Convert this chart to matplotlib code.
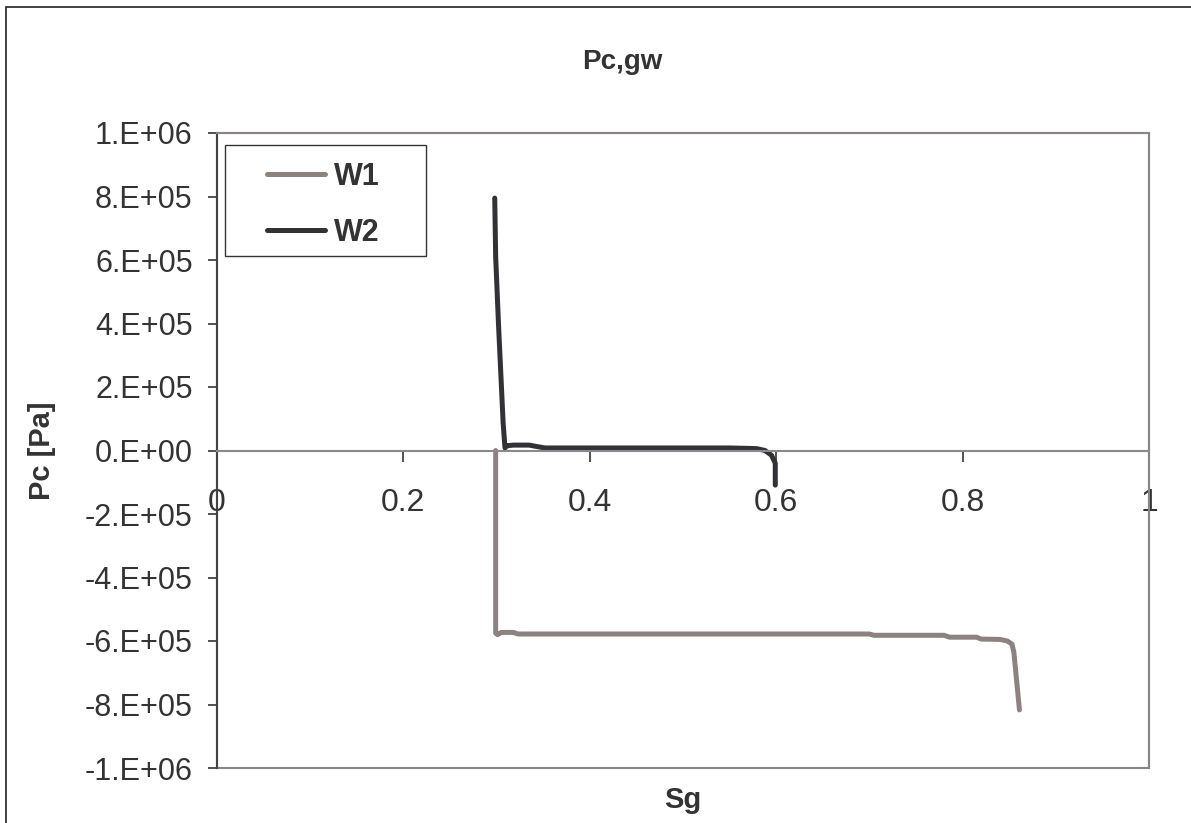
import matplotlib
matplotlib.use('Agg')
import matplotlib.pyplot as plt
from matplotlib.patches import Rectangle
from matplotlib.ticker import FuncFormatter, MultipleLocator
import numpy as np

plt.rcParams['font.family'] = ['Liberation Sans', 'DejaVu Sans']

# W1 curve (Sg, Pc)
sg_w1 = [0.299, 0.299, 0.301, 0.305, 0.318, 0.323, 0.50, 0.70, 0.705, 0.78, 0.786,
         0.815, 0.82, 0.84, 0.848, 0.853, 0.855, 0.861]
pc_w1 = [0, -5.75e5, -5.8e5, -5.73e5, -5.73e5, -5.78e5, -5.78e5, -5.78e5, -5.82e5,
         -5.82e5, -5.88e5, -5.88e5, -5.94e5, -5.95e5, -6.0e5, -6.1e5, -6.35e5, -8.17e5]

# W2 curve (Sg, Pc)
sg_w2 = [0.298, 0.299, 0.302, 0.307, 0.309, 0.311, 0.318, 0.335, 0.344, 0.352,
         0.45, 0.55, 0.579, 0.588, 0.595, 0.599, 0.599]
pc_w2 = [7.95e5, 6.1e5, 4.0e5, 0.87e5, 0.08e5, 1.5e4, 1.7e4, 1.7e4, 1.2e4, 0.8e4,
         0.8e4, 0.8e4, 0.6e4, 0.0, -1.5e4, -4e4, -1.09e5]

c_w1 = '#8c827f'
c_w2 = '#323236'
txt = '#333333'
frame = '#8a8585'


def sci_fmt(v, pos):
    if v == 0:
        return '0.E+00'
    e = int(np.floor(np.log10(abs(v)) + 1e-9))
    m = int(round(v / 10 ** e))
    return '%d.E%+03d' % (m, e)


fig = plt.figure(figsize=(11.91, 8.23), dpi=100)
# outer chart border
fig.patches.append(Rectangle((6 / 1191, -0.1), 1.5, 1 - 7 / 823 + 0.1,
                             transform=fig.transFigure, fill=False,
                             edgecolor='#222222', linewidth=1.2))

ax = fig.add_axes([217 / 1191, 1 - 768 / 823, 932 / 1191, 635 / 823])

ax.plot(sg_w1, pc_w1, color=c_w1, lw=3.6, solid_joinstyle='round',
        solid_capstyle='round', label='W1')
ax.plot(sg_w2, pc_w2, color=c_w2, lw=3.6, solid_joinstyle='round',
        solid_capstyle='round', label='W2')

ax.set_xlim(0, 1)
ax.set_ylim(-1e6, 1e6)
ax.xaxis.set_major_locator(MultipleLocator(0.2))
ax.yaxis.set_major_locator(MultipleLocator(2e5))
ax.yaxis.set_major_formatter(FuncFormatter(sci_fmt))
ax.xaxis.set_major_formatter(FuncFormatter(lambda v, p: '%g' % round(v, 1)))

ax.patch.set_edgecolor(frame)
ax.patch.set_linewidth(1.5)
for s in ['top', 'right']:
    ax.spines[s].set_color(frame)
    ax.spines[s].set_linewidth(1.5)
ax.spines['bottom'].set_position(('data', 0))
ax.spines['bottom'].set_color('#8a8a8a')
ax.spines['bottom'].set_linewidth(1.5)
ax.spines['left'].set_color('#444444')
ax.spines['left'].set_linewidth(1.5)

ax.tick_params(axis='y', direction='out', length=6.5, width=1.2, pad=11,
               labelsize=22, colors=txt)
ax.tick_params(axis='x', direction='out', length=8, width=1.2, pad=19,
               labelsize=23, colors=txt)

fig.text(622 / 1191, 1 - 62 / 823, 'Pc,gw', ha='center', va='center',
         fontsize=20, fontweight='bold', color=txt)
ax.set_ylabel('Pc [Pa]', fontsize=21, fontweight='bold', color=txt, labelpad=21)
ax.text(0.5, -0.05, 'Sg', transform=ax.transAxes, ha='center', va='center',
        fontsize=21, fontweight='bold', color=txt)

# legend box
ax.add_patch(Rectangle((225 / 1191, 1 - 256 / 823), 201 / 1191, 111 / 823,
                       transform=fig.transFigure, fill=True, facecolor='white',
                       edgecolor='#333333', linewidth=1.0, zorder=5, clip_on=False))
leg = ax.legend(loc='upper left', bbox_to_anchor=(267 / 1191, 1 - 162 / 823),
                bbox_transform=fig.transFigure,
                prop={'weight': 'bold', 'size': 22}, frameon=False,
                handlelength=1.9, handletextpad=0.3,
                labelspacing=0.85, borderpad=0, borderaxespad=0)
leg.set_zorder(6)
for t in leg.get_texts():
    t.set_color(txt)

fig.savefig('out.png', dpi=100)
